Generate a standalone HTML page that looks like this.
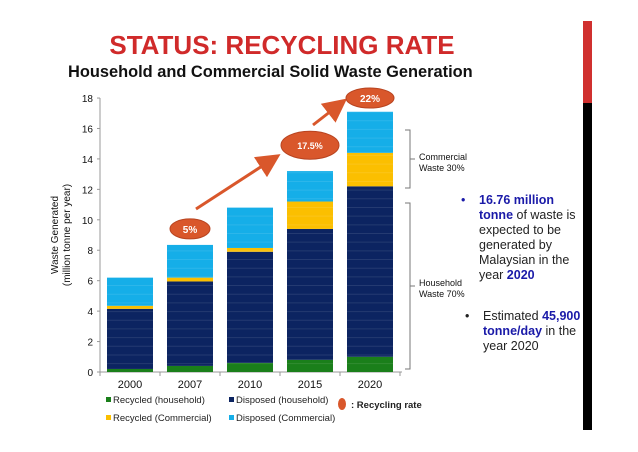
<!DOCTYPE html>
<html><head><meta charset="utf-8"><style>
body{margin:0;background:#fff;width:638px;height:452px;overflow:hidden;font-family:"Liberation Sans",sans-serif;position:relative}
.t{position:absolute}
</style></head><body>
<div class="t" style="left:0;width:564px;top:30px;text-align:center;color:#d02a2a;font-weight:bold;font-size:26px">STATUS: RECYCLING RATE</div>
<div class="t" style="left:68px;top:63px;font-weight:bold;font-size:16.4px;color:#111">Household and Commercial Solid Waste Generation</div>
<div class="t" style="left:583px;top:21px;width:9px;height:82px;background:#d0302f"></div>
<div class="t" style="left:583px;top:103px;width:9px;height:327px;background:#000"></div>
<svg id="c" width="638" height="452" style="position:absolute;left:0;top:0"></svg>
<div class="t" style="left:461px;top:193px;font-size:12.5px;line-height:15px;color:#222;width:116px">
<span style="position:absolute;left:0;color:#1a1aa8">•</span>
<div style="margin-left:18px"><b style="color:#1a1aa8">16.76 million tonne</b> of waste is expected to be generated by Malaysian in the year <b style="color:#1a1aa8">2020</b></div></div>
<div class="t" style="left:465px;top:309px;font-size:12.5px;line-height:15px;color:#222;width:120px">
<span style="position:absolute;left:0">•</span>
<div style="margin-left:18px">Estimated <b style="color:#1a1aa8">45,900 tonne/day</b> in the year 2020</div></div>
<script>
const years=["2000","2007","2010","2015","2020"];
const recycledHousehold=[0.2,0.4,0.6,0.8,1.0];
const disposedHousehold=[3.95,5.55,7.3,8.6,11.2];
const recycledCommercial=[0.2,0.25,0.25,1.8,2.2];
const disposedCommercial=[1.85,2.15,2.65,2.0,2.7];
const yTicks=[0,2,4,6,8,10,12,14,16,18];
const rates=[{i:1,label:"5%",v:9.4},{i:3,label:"17.5%",v:14.9},{i:4,label:"22%",v:18.0}];
const NS="http://www.w3.org/2000/svg",svg=document.getElementById('c');
const y=v=>372-v*15.22, x=i=>107+i*60, bw=46;
function el(t,a,txt){const e=document.createElementNS(NS,t);for(const k in a)e.setAttribute(k,a[k]);if(txt!=null)e.textContent=txt;svg.appendChild(e);return e;}
let ax=el('line',{x1:100,y1:98,x2:100,y2:372,stroke:'#999','stroke-width':1});

let bx=el('line',{x1:100,y1:372,x2:402,y2:372,stroke:'#999','stroke-width':1});

yTicks.forEach(t=>{let l=el('text',{x:93,y:y(t)+4,'text-anchor':'end','font-size':10,fill:'#111'},t);

el('line',{x1:97,x2:100,y1:y(t),y2:y(t),stroke:'#999'});});
for(let i=0;i<=5;i++)el('line',{x1:100+i*60,x2:100+i*60,y1:372,y2:376,stroke:'#999'});
let yt=el('text',{transform:'translate(64,235) rotate(-90)','text-anchor':'middle','font-size':10,fill:'#111'});

yt.innerHTML='<tspan x="0" dy="-6">Waste Generated</tspan><tspan x="0" dy="12">(million tonne per year)</tspan>';
const series=[[recycledHousehold,'#1a7f1a','recycled-household'],[disposedHousehold,'#0c2461','disposed-household'],[recycledCommercial,'#fbbf00','recycled-commercial'],[disposedCommercial,'#15aee8','disposed-commercial']];
years.forEach((yr,i)=>{let base=0;
series.forEach(([arr,col,nm])=>{let v=arr[i];let r=el('rect',{x:x(i),y:y(base+v),width:bw,height:y(base)-y(base+v),fill:col});
base+=v;});
for(let g=0.55;g<base;g+=0.57)el('line',{x1:x(i),x2:x(i)+bw,y1:y(g),y2:y(g),stroke:'#fff','stroke-opacity':0.1,'stroke-width':1});
let l=el('text',{x:x(i)+bw/2,y:388,'text-anchor':'middle','font-size':11,fill:'#111'},yr);
});
el('defs',{}).innerHTML='<marker id="ah" markerWidth="8" markerHeight="8" refX="5" refY="4" orient="auto"><path d="M0,0L8,4L0,8z" fill="#d9572b"/></marker>';
let a1=el('line',{x1:196,y1:209,x2:273,y2:159,stroke:'#d9572b','stroke-width':3,'marker-end':'url(#ah)'});

let a2=el('line',{x1:313,y1:125,x2:340,y2:104,stroke:'#d9572b','stroke-width':3,'marker-end':'url(#ah)'});

const sizes=[[20,10],[29,14],[24,10]];
rates.forEach((r,k)=>{const cx=x(r.i)+bw/2, cy=y(r.v);
let e=el('ellipse',{cx:cx,cy:cy,rx:sizes[k][0],ry:sizes[k][1],fill:'#d9572b',stroke:'#b84420'});

let t=el('text',{x:cx,y:cy+4,'text-anchor':'middle','font-size':k==1?9:10,'font-weight':'bold',fill:'#fff'},r.label);
});
function br(y1,y2,nm){let p=el('path',{d:`M405,${y1}H410V${y2}H405M410,${(y1+y2)/2}H415`,fill:'none',stroke:'#777','stroke-width':1});
}
br(130,188,'commercial-bracket');br(203,369,'household-bracket');
[['Commercial',160],['Waste 30%',171],['Household',286],['Waste  70%',297]].forEach(([s,yy])=>{let t=el('text',{x:419,y:yy,'font-size':9,fill:'#111'},s);
});
const leg=[['Recycled (household)','#1a7f1a',106,403],['Disposed (household)','#0c2461',229,403],['Recycled (Commercial)','#fbbf00',106,421],['Disposed (Commercial)','#15aee8',229,421]];
leg.forEach(([s,c,lx,ly])=>{let r=el('rect',{x:lx,y:ly-6,width:5,height:5,fill:c});

let t=el('text',{x:lx+7,y:ly,'font-size':9.5,fill:'#222'},s);
});
let le=el('ellipse',{cx:342,cy:404,rx:4,ry:6,fill:'#d9572b'});

let lt=el('text',{x:351,y:408,'font-size':9.5,'font-weight':'bold',fill:'#222'},': Recycling rate');

</script>
</body></html>
